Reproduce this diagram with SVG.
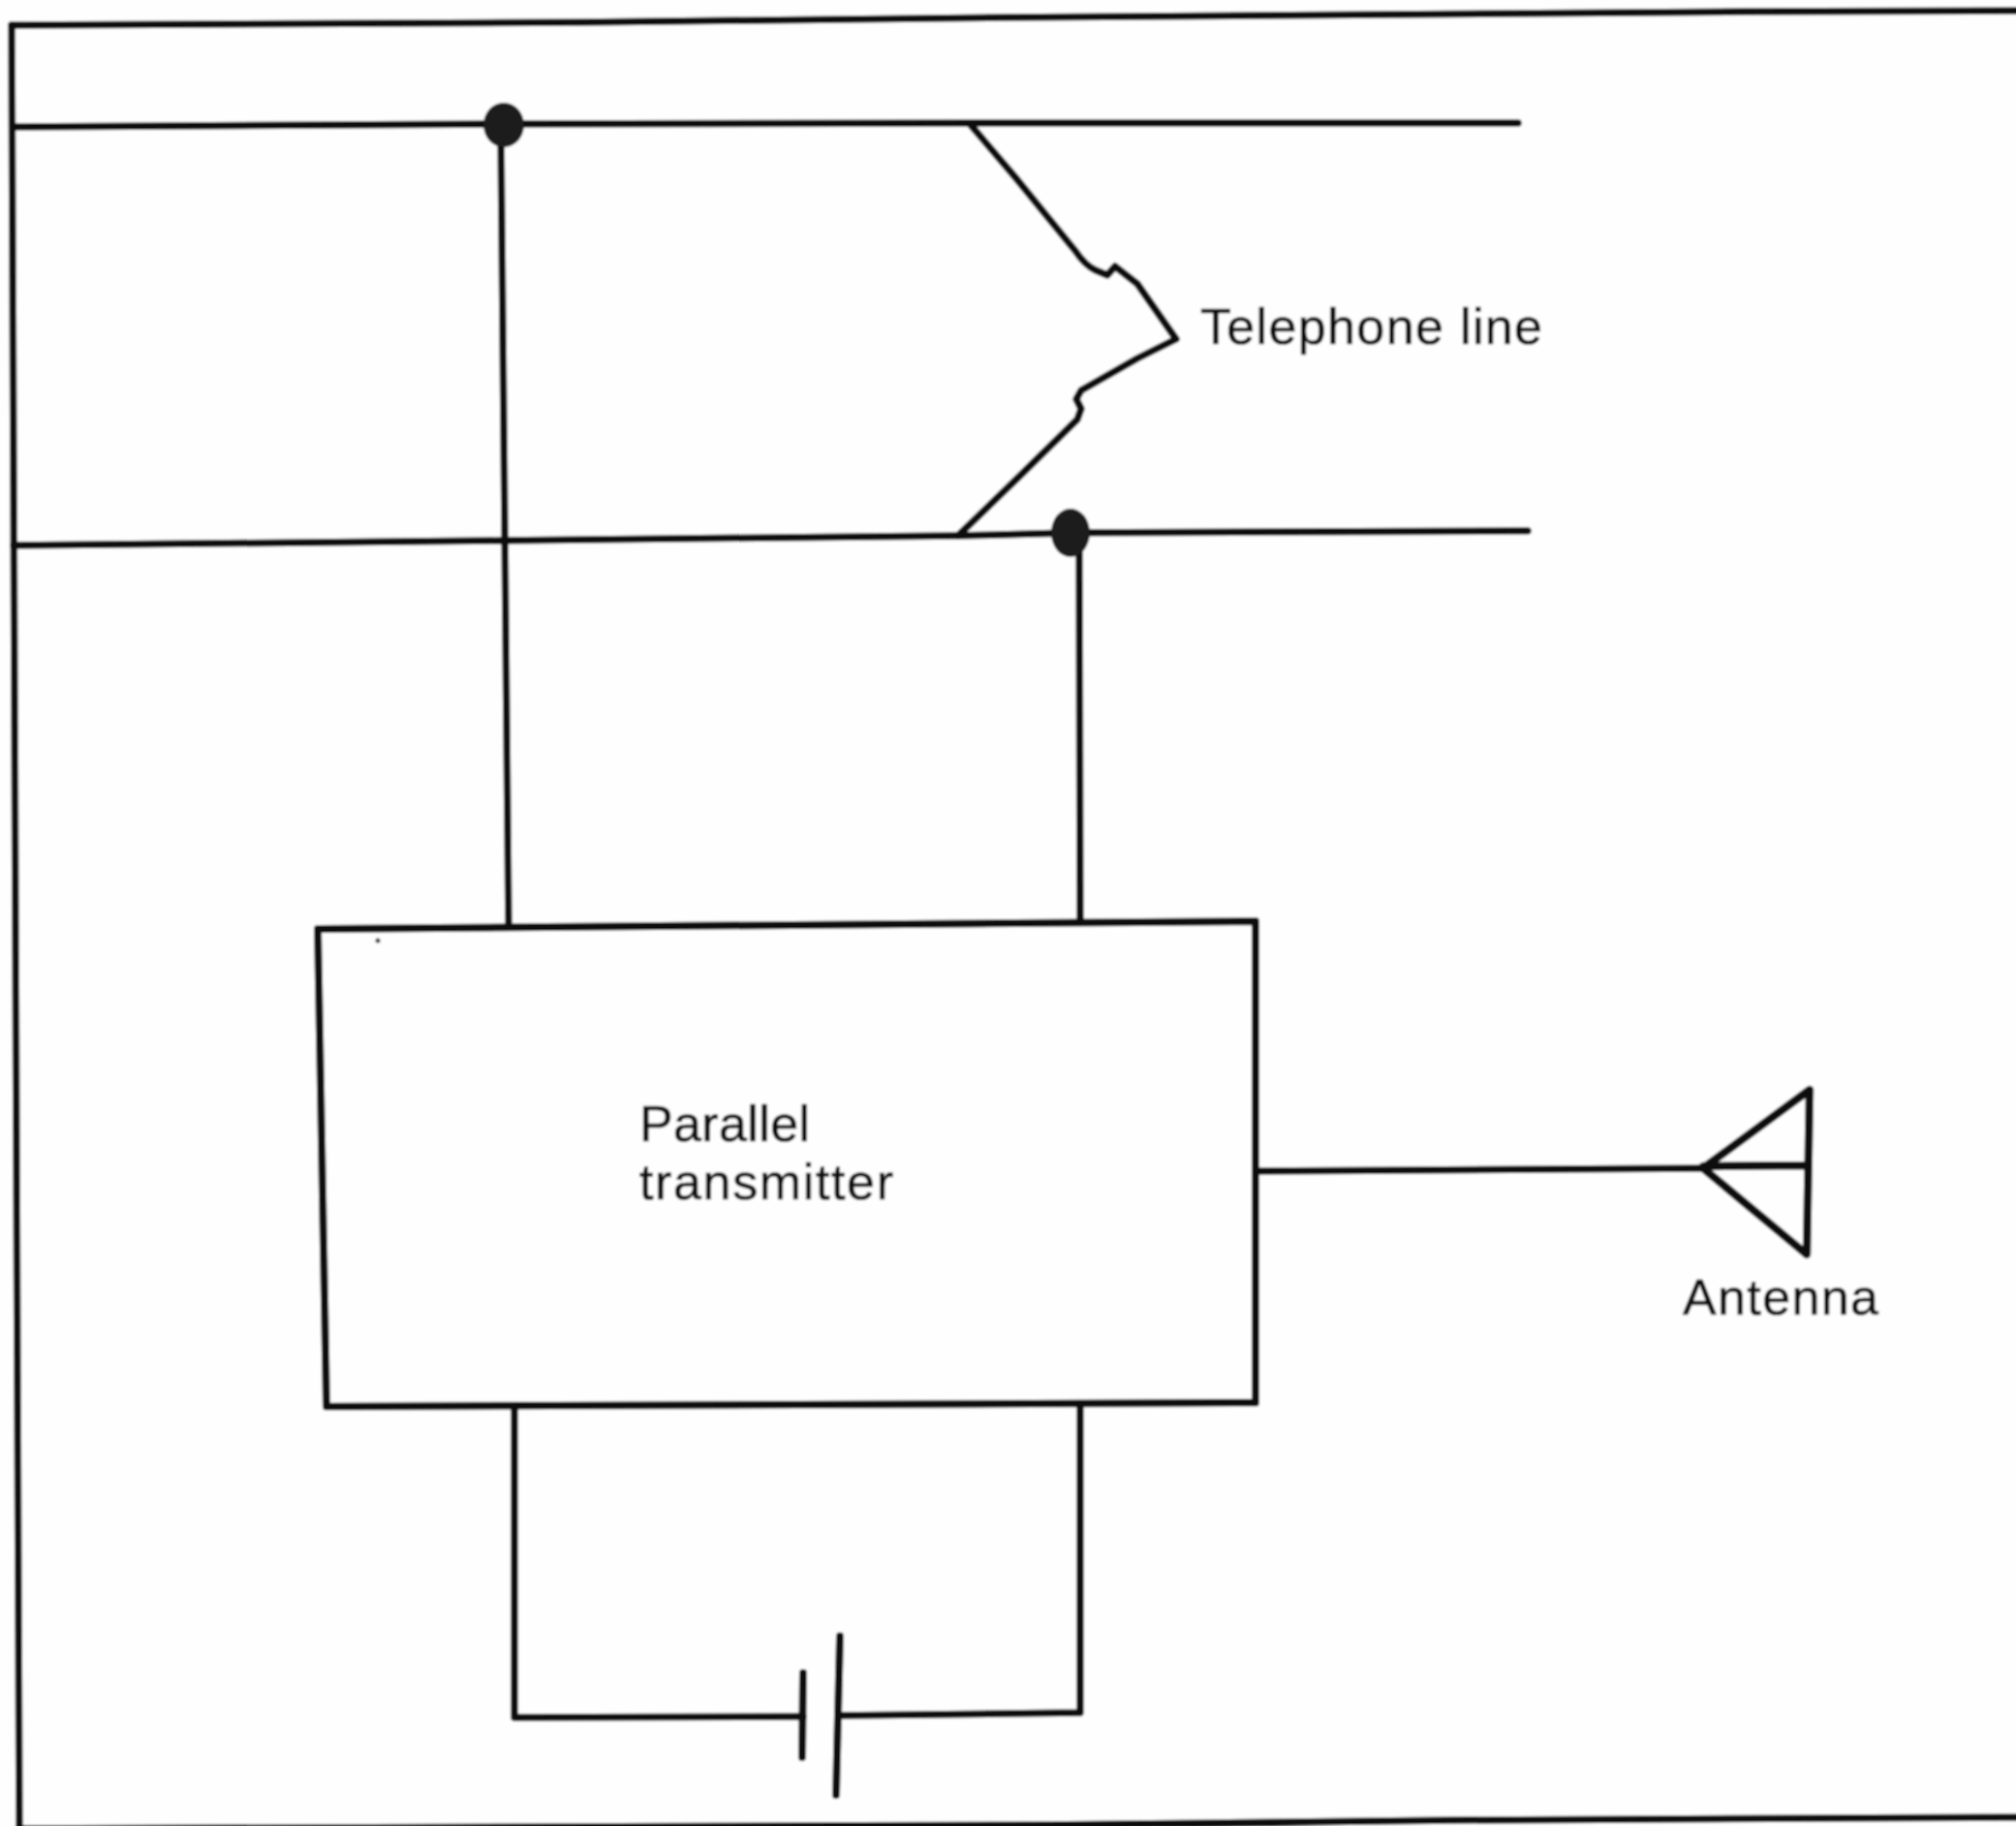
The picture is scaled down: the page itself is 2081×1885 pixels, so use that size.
<svg xmlns="http://www.w3.org/2000/svg" width="2081" height="1885" viewBox="0 0 2081 1885">
  <style>
    .ln { fill: none; stroke: #0c0c0c; stroke-width: 7.5; stroke-linecap: round; stroke-linejoin: round; }
    .dot { fill: #1a1a1a; }
    .lbl { font-family: "Liberation Sans", Arial, sans-serif; font-size: 52px; fill: #0e0e0e; stroke: #0e0e0e; stroke-width: 0.7px; }
  </style>
  <defs>
    <filter id="soft" x="0" y="0" width="1" height="1" filterUnits="objectBoundingBox">
      <feGaussianBlur stdDeviation="0.9"/>
    </filter>
  </defs>
  <rect width="2081" height="1885" fill="#fefefe"/>
  <g filter="url(#soft)">
    <rect width="2081" height="1885" fill="#fefefe"/>
    <g id="frame">
      <path class="ln" d="M12 26 L600 23 L1040 18 L1800 12 L2085 11"/>
      <path class="ln" d="M12 26 L20 1890"/>
      <path class="ln" d="M20 1888 L1080 1884 L1500 1879 L2085 1876"/>
    </g>
    <g id="connectors">
      <path class="ln" d="M14 131 L520 128 L1002 127 L1567 127"/>
      <path class="ln" d="M14 563 L520 558 L989 553 L1105 550 L1577 548"/>
      <path class="ln" d="M1002 129 L1048 183 L1110 259 Q1120 274 1131 279 L1143 284 L1151 275 L1174 293 L1188 313 L1214 350 L1174 370 L1116 403 L1111 412 L1116 422 L1112 433 L1054 490 L989 553"/>
      <path class="ln" d="M517 135 L525 957"/>
      <path class="ln" d="M1114 560 L1115 951"/>
      <path class="ln" d="M1296 1209 L1758 1206"/>
      <path class="ln" d="M531 1452 L531 1773 L829 1772"/>
      <path class="ln" d="M1115 1449 L1115 1768 L866 1771"/>
    </g>
    <g id="junction-top"><ellipse class="dot" cx="520" cy="129" rx="21" ry="23"/></g>
    <g id="junction-bottom"><ellipse class="dot" cx="1105" cy="550" rx="20" ry="25"/></g>
    <g id="telephone-line-label">
      <text class="lbl" x="1239" y="355" textLength="353">Telephone line</text>
    </g>
    <g id="parallel-transmitter">
      <path class="ln" style="stroke-width:8" d="M328 959 L1296 951 L1296 1448 L337 1452 Z"/>
      <circle cx="390" cy="971" r="2.5" fill="#333"/>
      <text class="lbl" x="660" y="1178" textLength="176">Parallel</text>
      <text class="lbl" x="660" y="1238" textLength="262">transmitter</text>
    </g>
    <g id="antenna">
      <path class="ln" style="stroke-width:8.5" d="M1758 1206 L1868 1125 L1865 1295 Z M1758 1204 L1866 1203"/>
      <text class="lbl" x="1737" y="1357" textLength="202">Antenna</text>
    </g>
    <g id="battery">
      <path class="ln" style="stroke-width:8" d="M829 1727 L828 1814"/>
      <path class="ln" style="stroke-width:8" d="M867 1689 L863 1853"/>
    </g>
  </g>
</svg>
